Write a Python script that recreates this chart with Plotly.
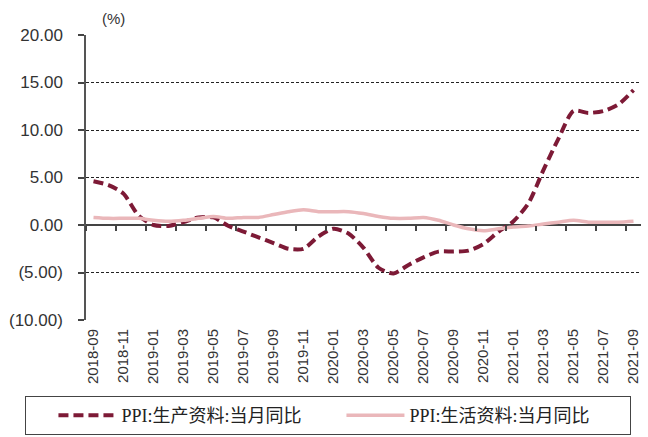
import plotly.graph_objects as go

# Monthly categories
months = [
    "2018-09", "2018-10", "2018-11", "2018-12",
    "2019-01", "2019-02", "2019-03", "2019-04", "2019-05", "2019-06",
    "2019-07", "2019-08", "2019-09", "2019-10", "2019-11", "2019-12",
    "2020-01", "2020-02", "2020-03", "2020-04", "2020-05", "2020-06",
    "2020-07", "2020-08", "2020-09", "2020-10", "2020-11", "2020-12",
    "2021-01", "2021-02", "2021-03", "2021-04", "2021-05", "2021-06",
    "2021-07", "2021-08", "2021-09",
]

# PPI: producer goods, YoY (%)
ppi_producer = [
    4.6, 4.2, 3.3, 1.0,
    0.0, -0.1, 0.3, 0.8, 0.8, -0.1,
    -0.7, -1.3, -1.9, -2.5, -2.5, -1.2,
    -0.4, -0.9, -2.4, -4.5, -5.1, -4.2,
    -3.4, -2.8, -2.8, -2.7, -2.0, -0.7,
    0.4, 2.3, 5.8, 9.1, 12.0, 11.8,
    12.0, 12.7, 14.2,
]

# PPI: consumer goods, YoY (%)
ppi_consumer = [
    0.8, 0.7, 0.7, 0.7,
    0.5, 0.4, 0.5, 0.7, 0.9, 0.7,
    0.8, 0.8, 1.1, 1.4, 1.6, 1.4,
    1.4, 1.4, 1.2, 0.9, 0.7, 0.7,
    0.8, 0.5, 0.0, -0.4, -0.6, -0.4,
    -0.2, -0.1, 0.1, 0.3, 0.5, 0.3,
    0.3, 0.3, 0.4,
]

# Axis ticks
x_tick_labels = months[::2]
y_tick_values = [-10, -5, 0, 5, 10, 15, 20]
y_tick_text = ["(10.00)", "(5.00)", "0.00", "5.00", "10.00", "15.00", "20.00"]

name_producer = "PPI:生产资料:当月同比"
name_consumer = "PPI:生活资料:当月同比"

idx = list(range(len(months)))

fig = go.Figure()

fig.add_trace(go.Scatter(
    x=idx, y=ppi_producer, name=name_producer, mode="lines",
    line=dict(color="#7d1a36", width=4, dash="10px,5px", shape="spline", smoothing=0.7),
))
fig.add_trace(go.Scatter(
    x=idx, y=ppi_consumer, name=name_consumer, mode="lines",
    line=dict(color="#eab7ba", width=3.5, shape="spline", smoothing=0.7),
))
# Carrier trace for the zero-crossing tick axis
fig.add_trace(go.Scatter(
    x=[idx[0]], y=[0], xaxis="x2", mode="markers",
    marker=dict(opacity=0), showlegend=False, hoverinfo="skip",
))

fig.update_layout(
    width=648, height=437,
    margin=dict(l=86, r=7, t=35, b=117, autoexpand=False),
    paper_bgcolor="white", plot_bgcolor="white",
    showlegend=True,
    xaxis=dict(
        range=[-0.5, len(months) - 0.5],
        tickmode="array",
        tickvals=idx[::2],
        ticktext=x_tick_labels,
        tickangle=-90,
        ticks="",
        ticklabelstandoff=5,
        showline=False, showgrid=False, zeroline=False,
        tickfont=dict(family="Liberation Sans, Arial, sans-serif", size=15, color="#333333"),
    ),
    xaxis2=dict(
        overlaying="x", anchor="free", position=1 / 3,
        range=[-0.5, len(months) - 0.5],
        tickmode="linear", tick0=-0.5, dtick=2,
        ticks="outside", ticklen=5, tickwidth=1.5, tickcolor="#444444",
        showticklabels=False, showline=False, showgrid=False, zeroline=False,
    ),
    yaxis=dict(
        range=[-10, 20],
        tickmode="array",
        tickvals=y_tick_values,
        ticktext=y_tick_text,
        ticks="outside", ticklen=6, tickwidth=1.5, tickcolor="#444444",
        ticklabelstandoff=12,
        showline=True, linecolor="#555555", linewidth=1.5,
        showgrid=True, gridcolor="#222222", gridwidth=1, griddash="3px,2px",
        zeroline=True, zerolinecolor="#444444", zerolinewidth=1.5,
        tickfont=dict(family="Liberation Sans, Arial, sans-serif", size=17, color="#333333"),
    ),
    legend=dict(
        orientation="h",
        x=-0.11, xanchor="left",
        y=-0.4035, yanchor="bottom",
        bordercolor="#444444", borderwidth=1,
        bgcolor="white",
        title=dict(text="&nbsp;&nbsp;&nbsp;&nbsp;&nbsp;", side="left", font=dict(size=14)),
        font=dict(family="Liberation Serif, Noto Sans CJK SC, serif", size=18, color="#222222"),
        entrywidth=215,
        itemwidth=58,
    ),
    annotations=[
        dict(
            text="(%)", x=0.05, y=20, xref="paper", yref="y",
            xanchor="center", yanchor="bottom", yshift=6, showarrow=False,
            font=dict(family="Liberation Sans, Arial, sans-serif", size=15, color="#333333"),
        )
    ],
)

fig.write_html("out.html")
